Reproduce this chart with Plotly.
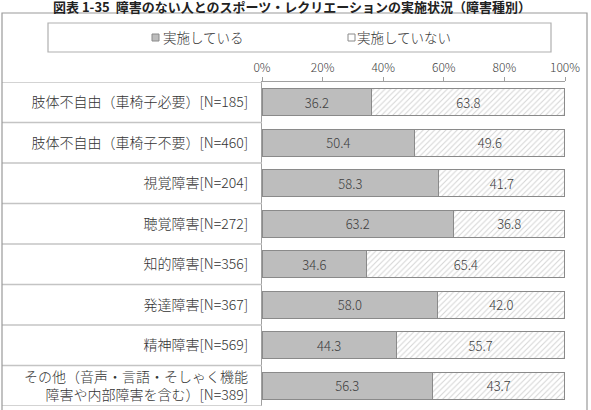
import plotly.graph_objects as go

categories = [
    "肢体不自由（車椅子必要）[N=185]",
    "肢体不自由（車椅子不要）[N=460]",
    "視覚障害[N=204]",
    "聴覚障害[N=272]",
    "知的障害[N=356]",
    "発達障害[N=367]",
    "精神障害[N=569]",
    "その他（音声・言語・そしゃく機能<br>障害や内部障害を含む）[N=389]",
]
done = [36.2, 50.4, 58.3, 63.2, 34.6, 58.0, 44.3, 56.3]
not_done = [63.8, 49.6, 41.7, 36.8, 65.4, 42.0, 55.7, 43.7]
series_names = ["実施している", "実施していない"]
tick_vals = [0, 20, 40, 60, 80, 100]
tick_text = ["0%", "20%", "40%", "60%", "80%", "100%"]
title_text = "図表 1-35  障害のない人とのスポーツ・レクリエーションの実施状況（障害種別）"

W, H = 591, 410
ML, MR, MT, MB = 262, 26, 82, 4
PW, PH = W - ML - MR, H - MT - MB

def px(x):
    return (x - ML) / PW

def py(y):
    return (H - MB - y) / PH

FONT = "Noto Sans CJK JP, Noto Sans, sans-serif"
GRAY_FILL = "#bdbdbd"
EDGE = "#8a8a8a"
TXT = "#404040"

fig = go.Figure()
fig.add_trace(go.Bar(
    y=categories, x=done, orientation="h", name=series_names[0],
    marker=dict(color=GRAY_FILL, line=dict(color=EDGE, width=1.3)),
    text=[f"{v:.1f}" for v in done], textposition="inside",
    insidetextanchor="middle",
    insidetextfont=dict(color=TXT, size=13, family=FONT, weight=300),
    width=0.67, showlegend=False,
))
fig.add_trace(go.Bar(
    y=categories, x=not_done, orientation="h", name=series_names[1],
    marker=dict(color="white", line=dict(color=EDGE, width=1.3),
                pattern=dict(shape="/", fgcolor="#a9a9a9", bgcolor="white",
                             size=4, solidity=0.25)),
    text=[f"{v:.1f}" for v in not_done], textposition="inside",
    insidetextanchor="middle",
    insidetextfont=dict(color=TXT, size=13, family=FONT, weight=300),
    width=0.67, showlegend=False,
))

shapes = []
# row separators in label area
for i in range(len(categories) + 1):
    shapes.append(dict(type="line", xref="paper", yref="y",
                       x0=px(2), x1=0, y0=i - 0.5, y1=i - 0.5,
                       line=dict(color="#c4c4c4", width=1.3)))
# outer frame
shapes.append(dict(type="rect", xref="paper", yref="paper",
                   x0=px(2), x1=px(587), y0=py(420), y1=py(13),
                   line=dict(color="#9a9a9a", width=1.2), fillcolor="rgba(0,0,0,0)"))
# legend box
shapes.append(dict(type="rect", xref="paper", yref="paper",
                   x0=px(48), x1=px(551), y0=py(52), y1=py(23),
                   line=dict(color="#b0b0b0", width=1.2), fillcolor="rgba(0,0,0,0)"))
# legend keys
shapes.append(dict(type="rect", xref="paper", yref="paper",
                   x0=px(152), x1=px(159), y0=py(41), y1=py(34),
                   line=dict(color=EDGE, width=1), fillcolor=GRAY_FILL))
shapes.append(dict(type="rect", xref="paper", yref="paper",
                   x0=px(348), x1=px(355), y0=py(41), y1=py(34),
                   line=dict(color=EDGE, width=1), fillcolor="white"))

annotations = [
    dict(text="<b>" + title_text + "</b>", xref="paper", yref="paper",
         x=px(292), y=py(6.5), xanchor="center", yanchor="middle",
         showarrow=False, font=dict(size=13, color="#222", family=FONT)),
    dict(text=series_names[0], xref="paper", yref="paper",
         x=px(161), y=py(37.5), xanchor="left", yanchor="middle",
         showarrow=False, font=dict(size=13.5, color="#333", family=FONT, weight=300)),
    dict(text=series_names[1], xref="paper", yref="paper",
         x=px(355), y=py(37.5), xanchor="left", yanchor="middle",
         showarrow=False, font=dict(size=13.5, color="#333", family=FONT, weight=300)),
]

fig.update_layout(
    width=W, height=H, barmode="stack",
    margin=dict(l=ML, r=MR, t=MT, b=MB, pad=0),
    paper_bgcolor="white", plot_bgcolor="white",
    font=dict(family=FONT, color="#333"),
    shapes=shapes, annotations=annotations,
    xaxis=dict(side="top", range=[0, 100], tickvals=tick_vals, ticktext=tick_text,
               showgrid=False, zeroline=False, showline=True, linecolor="#a0a0a0",
               linewidth=1.2, ticks="outside", ticklen=4, tickcolor="#a0a0a0",
               tickfont=dict(size=12, color="#404040", family=FONT, weight=300),
               fixedrange=True),
    yaxis=dict(range=[len(categories) - 0.5, -0.5], showgrid=False, zeroline=False,
               showline=True, linecolor="#a0a0a0", linewidth=1.2, ticks="",
               ticklabelstandoff=10,
               tickfont=dict(size=14, color="#333", family=FONT, weight=300)),
)

fig.write_html("out.html")
